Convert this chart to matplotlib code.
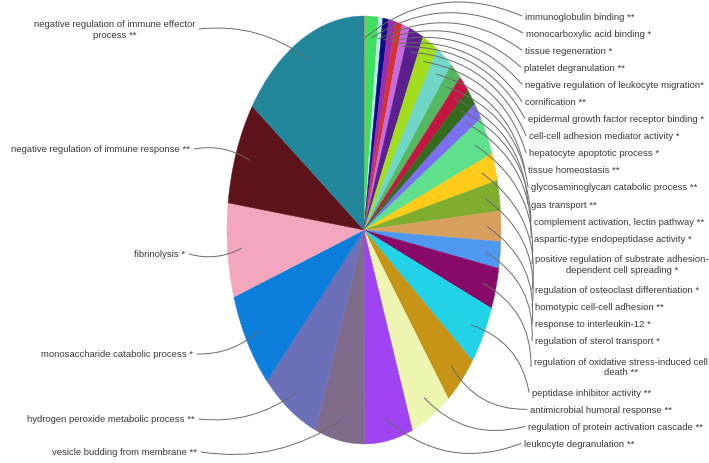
import matplotlib
matplotlib.use("Agg")
import matplotlib.pyplot as plt
from matplotlib import font_manager
import numpy as np

# GO terms in clockwise order starting at 12 o'clock
terms = [
    "immunoglobulin binding **",
    "monocarboxylic acid binding *",
    "tissue regeneration *",
    "platelet degranulation **",
    "negative regulation of leukocyte migration*",
    "cornification **",
    "epidermal growth factor receptor binding *",
    "cell-cell adhesion mediator activity *",
    "hepatocyte apoptotic process *",
    "tissue homeostasis **",
    "glycosaminoglycan catabolic process **",
    "gas transport **",
    "complement activation, lectin pathway **",
    "aspartic-type endopeptidase activity *",
    "positive regulation of substrate adhesion-\ndependent cell spreading *",
    "regulation of osteoclast differentiation *",
    "homotypic cell-cell adhesion **",
    "response to interleukin-12 *",
    "regulation of sterol transport *",
    "regulation of oxidative stress-induced cell\ndeath **",
    "peptidase inhibitor activity **",
    "antimicrobial humoral response **",
    "regulation of protein activation cascade **",
    "leukocyte degranulation **",
    "vesicle budding from membrane **",
    "hydrogen peroxide metabolic process **",
    "monosaccharide catabolic process *",
    "fibrinolysis *",
    "negative regulation of immune response **",
    "negative regulation of immune effector\nprocess **",
]

# share of each group (%)
shares = [
    0.3, 1.4, 0.5, 0.7, 0.8, 0.8, 0.9, 1.7, 1.9, 2.0,
    1.4, 1.3, 1.3, 1.3, 2.9, 2.1, 2.3, 2.3, 2.0, 3.1,
    4.5, 4.0, 4.8, 5.7, 5.8, 6.8, 7.4, 7.1, 7.8, 15.2,
]

colors = [
    "#9DB072", "#3FE060", "#BFE6E6", "#0C0C84", "#9B2DB3",
    "#D8322E", "#C56CE0", "#5B2090", "#A2DE1E", "#70D6C8",
    "#55B862", "#C41640", "#336B1F", "#7A70F0", "#5EE08C",
    "#FFCC1C", "#7FAE2E", "#D8A05F", "#4F98F0", "#880A68",
    "#22D3E8", "#C79418", "#EEF6B2", "#9E44F2", "#7F6B8C",
    "#6B70B8", "#0B7DDB", "#F4A6BC", "#5E1219", "#22879B",
]

# which side of the pie each label sits on
side = ["R"] * 24 + ["L"] * 6

W, H = 709, 464
names = {f.name for f in font_manager.fontManager.ttflist}
family = "Liberation Sans Narrow" if "Liberation Sans Narrow" in names else "Liberation Sans"
fs = 7.6 if family == "Liberation Sans Narrow" else 6.8

fig = plt.figure(figsize=(W / 100, H / 100), dpi=100)
fig.patch.set_facecolor("white")

# elliptical pie: centre and semi-axes in pixels
cx, cy, a, b = 364, 231, 137, 214
ax = fig.add_axes([(cx - a) / W, (H - cy - b) / H, 2 * a / W, 2 * b / H])
wedges, _ = ax.pie(shares, colors=colors, startangle=90, counterclock=False)
for w in wedges:
    w.set_edgecolor(w.get_facecolor())
    w.set_linewidth(0.3)
ax.set_aspect("auto")
ax.set_xlim(-1, 1)
ax.set_ylim(-1, 1)
ax.axis("off")

# label layout
right_x = [525, 526, 525, 524, 525, 525, 528, 529, 529, 528, 531, 531,
           534, 534, 535, 535, 535, 535, 535, 534, 532, 530, 528, 524]
row_h = 17.1
row_top = 17
left_pos = {  # right edge x, centre y
    24: (197, 453),
    25: (195, 420),
    26: (193, 355),
    27: (185, 255),
    28: (190, 150),
    29: (195, 30),
}

txt_color = "#3a3a3a"
line_color = "#6a6a6a"

total = float(sum(shares))
cum = np.cumsum(shares)
center_disp = ax.transData.transform((0, 0))

row = 0
ri = 0
for i, term in enumerate(terms):
    theta = 2 * np.pi * (cum[i] - shares[i] / 2) / total
    ax_pt = (0.9 * np.sin(theta), 0.9 * np.cos(theta))
    nlines = term.count("\n") + 1
    if side[i] == "R":
        x = right_x[ri]
        y = row_top + row_h * (row + (nlines - 1) / 2)
        row += nlines
        ri += 1
        fig.text(x / W, 1 - y / H, term, ha="left", va="center",
                 multialignment="center", fontsize=fs, family=family,
                 color=txt_color)
        sx, sy = x - 3, y
        rad = 0.3
    else:
        x, y = left_pos[i]
        fig.text(x / W, 1 - y / H, term, ha="right", va="center",
                 multialignment="center", fontsize=fs, family=family,
                 color=txt_color)
        sx, sy = x + 4, y
        rad = 0.2
    start = np.array([sx, H - sy], dtype=float)
    anchor = ax.transData.transform(ax_pt)
    d = anchor - start
    mid = (anchor + start) / 2
    perp = np.array([d[1], -d[0]])
    sign = 1 if np.dot(perp, mid - center_disp) > 0 else -1
    ax.annotate("", xy=ax_pt, xycoords="data",
                xytext=(sx, H - sy), textcoords="figure pixels",
                annotation_clip=False,
                arrowprops=dict(arrowstyle="-", color=line_color, lw=0.7,
                                shrinkA=0, shrinkB=0,
                                connectionstyle=f"arc3,rad={sign * rad}"))

fig.savefig("out.png", dpi=100, facecolor="white")
